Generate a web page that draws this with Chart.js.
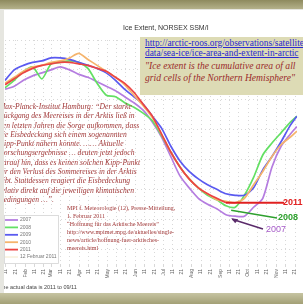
<!DOCTYPE html>
<html>
<head>
<meta charset="utf-8">
<script src="https://cdn.jsdelivr.net/npm/chart.js@4.4.0/dist/chart.umd.min.js"></script>
<style>
  body { margin: 0; width: 303px; height: 304px; overflow: hidden; position: relative; background: #e6e6e0; }
  #topband { position: absolute; left: 0; top: 0; width: 303px; height: 9px; background: linear-gradient(#8e8a5e, #b4b18a); }
  #botband { position: absolute; left: 0; top: 293px; width: 303px; height: 11px; background: linear-gradient(#c6c4a2, #a3a076); }
  #slide { position: absolute; left: 4px; top: 10px; width: 299px; height: 283px; background: #fff; overflow: hidden; }
  #chart { position: absolute; left: 0; top: 0; }
  #title { position: absolute; left: 119px; top: 14px; font: 7px "Liberation Sans", sans-serif; color: #333; white-space: nowrap; }
  #infobox { position: absolute; left: 136px; top: 27px; width: 170px; height: 58px; background: #dddbb5; padding: 1px 0 0 5px; box-sizing: border-box; white-space: nowrap; font-family: "Liberation Serif", serif; }
  #infobox .lnk { font-size: 9.4px; line-height: 10px; color: #2a2ad0; text-decoration: underline; }
  #infobox .quote { font-size: 9.6px; line-height: 12px; color: #9a2b2b; font-style: italic; }
  #mpi { position: absolute; left: -5px; top: 92px; font: italic 7.6px/9.3px "Liberation Serif", serif; color: #a23a3a; white-space: nowrap; }
  #source { position: absolute; left: 63px; top: 194px; font: 6px/8px "Liberation Serif", serif; color: #a23a3a; white-space: nowrap; }
  #note { position: absolute; left: -5px; top: 274px; font: 5.5px "Liberation Sans", sans-serif; color: #444; white-space: nowrap; }
</style>
</head>
<body>
<div id="topband"></div>
<div id="slide">
  <canvas id="chart" width="299" height="283"></canvas>
  <div id="title">Ice Extent, NORSEX SSM/I</div>
  <div id="infobox">
    <div class="lnk">http://arctic-roos.org/observations/satellite-</div>
    <div class="lnk">data/sea-ice/ice-area-and-extent-in-arctic</div>
    <div class="quote" style="margin-top:2px">"Ice extent is the cumulative area of all</div>
    <div class="quote">grid cells of the Northern Hemisphere"</div>
  </div>
  <div id="mpi">Max-Planck-Institut Hamburg: “Der starke<br>Rückgang des Meereises in der Arktis ließ in<br>den letzten Jahren die Sorge aufkommen, dass<br>die Eisbedeckung sich einem sogenannten<br>Kipp-Punkt nähern könnte. …… Aktuelle<br>Forschungsergebnisse … deuten jetzt jedoch<br>darauf hin, dass es keinen solchen Kipp-Punkt<br>für den Verlust des Sommereises in der Arktis<br>gibt. Stattdessen reagiert die Eisbedeckung<br>relativ direkt auf die jeweiligen klimatischen<br>Bedingungen …”.</div>
  <div id="source">MPI f. Meteorologie (12), Presse-Mitteilung,<br>1. Februar 2011<br>“Hoffnung für das Arktische Meereis”<br>http://www.mpimet.mpg.de/aktuelles/single-<br>news/article/hoffnung-fuer-arktisches-<br>meereis.html</div>
  <div id="note">The actual data is 2011 to 09/11</div>
</div>
<div id="botband"></div>

<script>
// day of year for every sample
const days = [10, 20, 30, 40, 50, 60, 70, 80, 90, 100, 110, 120, 130, 140, 150, 160,
  170, 180, 190, 200, 210, 220, 230, 240, 250, 260, 270, 280, 290, 300, 310, 320, 327];

// ice extent, million km2
const ice2007 = [12.7, 12.9, 13.3, 13.6, 13.8, 14.0, 14.2, 14.0, 13.7, 13.5, 13.2, 12.9, 12.6, 12.2, 11.8, 11.3,
  10.5, 9.5, 8.2, 6.9, 6.1, 5.4, 5.0, 4.7, 4.3, 4.2, 4.2, 4.8, 5.4, 7.5, 8.9, 9.7, 10.2];
const ice2008 = [12.8, 13.3, 13.9, 14.2, 13.4, 14.4, 14.5, 14.6, 14.5, 14.1, 13.1, 12.3, 12.2, 11.8, 11.5, 11.1,
  10.6, 9.6, 8.5, 7.5, 6.7, 6.1, 5.6, 5.3, 4.9, 4.8, 5.6, 6.8, 8.3, 9.1, 9.8, 10.5, 10.9];
const ice2009 = [13.3, 14.0, 14.3, 14.5, 14.6, 14.8, 14.8, 14.7, 14.5, 14.3, 14.1, 13.8, 13.3, 12.7, 12.2, 11.7,
  10.9, 10.1, 8.9, 7.9, 7.2, 6.7, 6.3, 6.0, 5.7, 5.6, 5.6, 6.1, 7.3, 8.2, 9.2, 10.3, 10.9];
const ice2010 = [13.1, 13.5, 13.9, 14.2, 14.3, 14.5, 14.6, 14.8, 15.1, 14.7, 14.3, 13.9, 13.5, 13.0, 12.3, 11.6,
  10.8, 9.7, 8.5, 7.5, 6.7, 6.1, 5.7, 5.3, 5.2, 5.1, 5.4, 6.3, 7.2, 8.2, 9.0, 9.5, 9.9];
const ice2011 = [13.0, 13.4, 13.8, 14.1, 14.3, 14.4, 14.5, 14.5, 14.4, 14.3, 14.1, 13.9, 13.5, 13.1, 12.5, 11.7,
  10.9, 9.7, 8.5, 7.5, 6.7, 6.1, 5.7, 5.4, 5.1];

// x ticks: 1st, 11th and 21st of each month
const tickDays = [11, 21, 32, 42, 52, 60, 70, 80, 91, 101, 111, 121, 131, 141, 152, 162, 172,
  182, 192, 202, 213, 223, 233, 244, 254, 264, 274, 284, 294, 305, 315, 325];
const tickLabels = ['11', '21', 'Feb', '11', '21', 'Mar', '11', '21', 'Apr', '11', '21', 'May', '11', '21',
  'Jun', '11', '21', 'Jul', '11', '21', 'Aug', '11', '21', 'Sep', '11', '21', 'Oct', '11', '21', 'Nov', '11', '21'];
const gridValues = [2, 4, 6, 8, 10, 12, 14, 16];

const seriesNames = ['2007', '2008', '2009', '2010', '2011'];
const seriesData = [ice2007, ice2008, ice2009, ice2010, ice2011];
const colors = ['#b57de0', '#64e064', '#5a5af0', '#f5b46c', '#ec4444'];

function points(values) {
  return values.map((v, i) => ({ x: days[i], y: v }));
}

// legend box in the lower left corner
const legendPlugin = {
  id: 'boxLegend',
  afterDatasetsDraw(chart) {
    const c = chart.ctx;
    const bx = 0, by = 205, bw = 54, bh = 48, row = 7.4;
    c.save();
    c.fillStyle = '#fff';
    c.fillRect(bx, by, bw, bh);
    c.strokeStyle = '#d4d4d4';
    c.lineWidth = 0.8;
    c.strokeRect(bx + 0.5, by + 0.5, bw, bh);
    c.font = '5px "Liberation Sans"';
    c.textBaseline = 'middle';
    const items = chart.data.datasets.map(d => ({ label: d.label, color: d.borderColor, width: 1.8 }));
    items.push({ label: '12 Februar 2011', color: '#f0e2b8', width: 0.8 });
    items.forEach((it, i) => {
      const y = by + 5 + i * row;
      c.strokeStyle = it.color;
      c.lineWidth = it.width;
      c.beginPath();
      c.moveTo(bx + 1, y);
      c.lineTo(bx + 14, y);
      c.stroke();
      c.fillStyle = '#777';
      c.fillText(it.label, bx + 16, y);
    });
    c.restore();
  }
};

// arrows pointing at the minima
const arrowPlugin = {
  id: 'yearArrows',
  afterDraw(chart) {
    const c = chart.ctx;
    const minIndex = arr => arr.indexOf(Math.min(...arr));
    const p11 = chart.getDatasetMeta(4).data[ice2011.length - 1];
    const p08 = chart.getDatasetMeta(1).data[minIndex(ice2008)];
    const p07 = chart.getDatasetMeta(0).data[minIndex(ice2007)];
    c.save();
    c.textBaseline = 'middle';

    c.strokeStyle = '#e02020';
    c.lineWidth = 2;
    c.beginPath();
    c.moveTo(p11.x, p11.y);
    c.lineTo(280, p11.y);
    c.stroke();
    c.fillStyle = '#e02020';
    c.font = 'bold 9px "Liberation Sans"';
    c.fillText('2011', 279, p11.y);

    c.strokeStyle = '#2ea02e';
    c.lineWidth = 1.6;
    c.beginPath();
    c.moveTo(p08.x - 4, p08.y + 3);
    c.lineTo(273, 208);
    c.stroke();
    c.fillStyle = '#2ea02e';
    c.fillText('2008', 274, 208);

    c.strokeStyle = '#5a2a6a';
    c.lineWidth = 1.4;
    c.beginPath();
    c.moveTo(p07.x - 3, p07.y + 3);
    c.lineTo(259, 219);
    c.stroke();
    c.fillStyle = '#5a2a6a';
    c.beginPath();
    c.moveTo(p07.x - 4, p07.y + 2);
    c.lineTo(p07.x + 3, p07.y + 3);
    c.lineTo(p07.x, p07.y + 7);
    c.fill();
    c.fillStyle = '#a65cc8';
    c.font = '9px "Liberation Sans"';
    c.fillText('2007', 262, 220);
    c.restore();
  }
};

new Chart(document.getElementById('chart'), {
  type: 'line',
  data: {
    datasets: seriesNames.map((name, i) => ({
      label: name,
      data: points(seriesData[i]),
      borderColor: colors[i],
      borderWidth: 1.7,
      pointRadius: 0,
      tension: 0.25,
      fill: false,
      order: 4 - i
    }))
  },
  options: {
    responsive: false,
    animation: false,
    layout: { padding: { top: 30, left: 0, right: 0, bottom: 0 } },
    plugins: {
      legend: { display: false },
      title: { display: false },
      tooltip: { enabled: false }
    },
    scales: {
      x: {
        type: 'linear',
        min: 9.7,
        max: 327.3,
        afterBuildTicks: s => { s.ticks = tickDays.map(v => ({ value: v })); },
        afterFit: s => { s.height = 29; },
        ticks: {
          autoSkip: false,
          maxRotation: 90,
          minRotation: 90,
          padding: 2,
          color: '#666',
          font: { size: 5, family: 'Liberation Sans' },
          callback: (v, i) => tickLabels[i]
        },
        grid: { color: '#d8d8d8', tickLength: 3 },
        border: { display: false, dash: [1, 3] }
      },
      y: {
        min: 1,
        max: 16,
        afterBuildTicks: s => { s.ticks = gridValues.map(v => ({ value: v })); },
        afterFit: s => { s.width = 0; },
        ticks: { display: false },
        grid: { color: '#d8d8d8', drawTicks: false },
        border: { display: false, dash: [1, 3] }
      }
    }
  },
  plugins: [legendPlugin, arrowPlugin]
});
</script>
</body>
</html>
